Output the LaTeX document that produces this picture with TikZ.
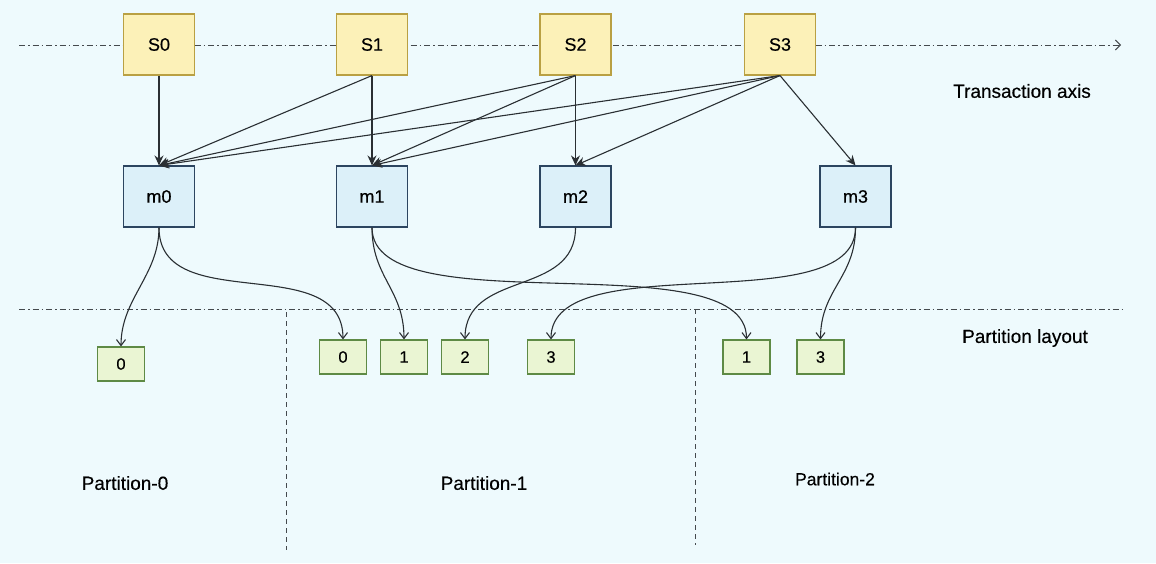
\documentclass[tikz,border=0pt]{standalone}
\usepackage{fontspec}
\setmainfont{Liberation Sans}[FakeBold=0.35]
\usetikzlibrary{arrows.meta}
\definecolor{bgc}{HTML}{EEFAFD}
\definecolor{yfill}{HTML}{FCF1B8}
\definecolor{ydraw}{HTML}{B9A043}
\definecolor{bfill}{HTML}{DCF0F9}
\definecolor{bdraw}{HTML}{2C4560}
\definecolor{gfill}{HTML}{EAF5D3}
\definecolor{gdraw}{HTML}{5E8A45}
\definecolor{linec}{HTML}{2A2F33}
\definecolor{axisc}{HTML}{44494D}
\tikzset{
  sbox/.style={draw=ydraw, fill=yfill, line width=1.1pt, minimum width=71pt, minimum height=61pt, inner sep=0pt, font=\fontsize{18}{21}\selectfont},
  mbox/.style={draw=bdraw, fill=bfill, line width=1.1pt, minimum width=71pt, minimum height=61pt, inner sep=0pt, font=\fontsize{18}{21}\selectfont},
  pbox/.style={draw=gdraw, fill=gfill, line width=1.1pt, minimum width=47pt, minimum height=34pt, inner sep=0pt, font=\fontsize{16.5}{19}\selectfont},
  lbl/.style={inner sep=0pt, font=\fontsize{19}{22}\selectfont},
  dep/.style={draw=linec, line width=1.1pt, -{Stealth[length=10pt,width=9pt]}},
  part/.style={draw=linec, line width=1.1pt, -{Straight Barb[length=6pt,width=9pt]}},
  axisline/.style={draw=axisc, line width=0.9pt, dash pattern=on 6pt off 3pt on 1.5pt off 3pt},
  divline/.style={draw=axisc, line width=0.9pt, dash pattern=on 5pt off 4pt}
}
\begin{document}
\begin{tikzpicture}[x=1pt,y=-1pt]
\fill[bgc] (0,0) rectangle (1156,563);
\useasboundingbox (0,0) rectangle (1156,563);
% axes
\coordinate (axL) at (19,45);
\coordinate (axR) at (1121,45);
\draw[axisline, -{Straight Barb[length=5pt,width=10pt]}] (axL) -- (axR);
\coordinate (plL) at (19,309);
\coordinate (plR) at (1122,309);
\draw[axisline] (plL) -- (plR);
\coordinate (d1t) at (286,312);
\coordinate (d1b) at (286,550);
\coordinate (d2t) at (695,309);
\coordinate (d2b) at (695,545);
\draw[divline] (d1t) -- (d1b);
\draw[divline] (d2t) -- (d2b);
% transaction nodes
\node[sbox] (s0) at (159,44.5) {S0};
\node[sbox] (s1) at (372,44.5) {S1};
\node[sbox] (s2) at (575.5,44.5) {S2};
\node[sbox] (s3) at (780,44.5) {S3};
% m nodes
\node[mbox] (m0) at (159,196.5) {m0};
\node[mbox] (m1) at (372,196.5) {m1};
\node[mbox] (m2) at (575.5,196.5) {m2};
\node[mbox] (m3) at (855.5,196.5) {m3};
% partition boxes
\node[pbox] (p00) at (121,364) {0};
\node[pbox] (p10) at (343,357) {0};
\node[pbox] (p11) at (404,357) {1};
\node[pbox] (p12) at (465,357) {2};
\node[pbox] (p13) at (551,357) {3};
\node[pbox] (p21) at (746.5,357) {1};
\node[pbox] (p23) at (820.5,357) {3};
% labels
\node[lbl] (tax) at (1022,91) {Transaction axis};
\node[lbl] (play) at (1025,338) {Partition layout};
\node[lbl] (pn0) at (125,483) {Partition-0};
\node[lbl] (pn1) at (484,483) {Partition-1};
\node[lbl, font=\fontsize{17.5}{21}\selectfont] (pn2) at (835,479) {Partition-2};
% dependency arrows
\draw[dep] (s0.south) -- (m0.north);
\draw[dep] (s1.south) -- (m0.north);
\draw[dep] (s1.south) -- (m1.north);
\draw[dep] (s2.south) -- (m0.north);
\draw[dep] (s2.south) -- (m1.north);
\draw[dep] (s2.south) -- (m2.north);
\draw[dep] (s3.south) -- (m0.north);
\draw[dep] (s3.south) -- (m1.north);
\draw[dep] (s3.south) -- (m2.north);
\draw[dep] (s3.south) -- (m3.north);
% partition curves
\draw[part] (m0.south) .. controls +(0,48) and +(0,-48) .. (p00.north);
\draw[part] (m0.south) .. controls +(0,90) and +(0,-90) .. (p10.north);
\draw[part] (m1.south) .. controls +(0,50) and +(0,-50) .. (p11.north);
\draw[part] (m1.south) .. controls +(0,100) and +(0,-100) .. (p21.north);
\draw[part] (m2.south) .. controls +(0,70) and +(0,-70) .. (p12.north);
\draw[part] (m3.south) .. controls +(0,95) and +(0,-95) .. (p13.north);
\draw[part] (m3.south) .. controls +(0,50) and +(0,-50) .. (p23.north);
\end{tikzpicture}
\end{document}
